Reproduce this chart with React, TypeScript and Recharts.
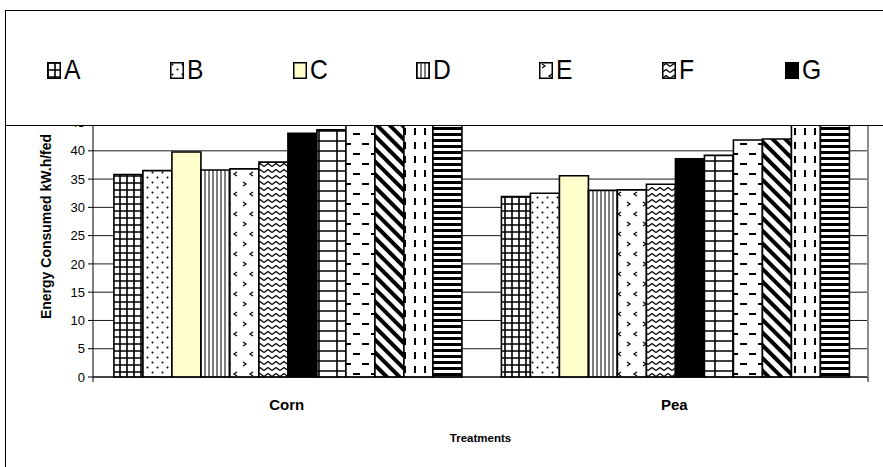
import { Bar, BarChart, CartesianGrid, Legend, XAxis, YAxis } from "recharts";

const categories = ["Corn", "Pea"];
const treatments = ["A", "B", "C", "D", "E", "F", "G", "H", "I", "J", "K", "L"];
const cornValues = [35.8, 36.5, 39.8, 36.6, 36.8, 38.0, 43.1, 43.7, 47.5, 48.5, 50.5, 51.5];
const peaValues = [31.9, 32.5, 35.6, 33.0, 33.1, 34.1, 38.6, 39.2, 41.9, 42.1, 45.5, 46.5];
// ticks above 45 sit under the legend box in the original
const yTicks = [0, 5, 10, 15, 20, 25, 30, 35, 40, 45];
const edgeTicks = [0, 1, 2];
// only the first legend entries fit inside the frame of the original picture
const shownLegendCount = 7;

const seriesValues = [cornValues, peaValues];
const rows = categories.map((name, i) => {
    const row: Record<string, string | number> = { name };
    treatments.forEach((t, j) => {
        row[t] = seriesValues[i][j];
    });
    return row;
});

const FONT = '"Liberation Sans", Arial, sans-serif';

function Patterns() {
    return (
        <defs>
            <pattern id="pat-A" width="7" height="7" patternUnits="userSpaceOnUse">
                <rect width="7" height="7" fill="#fff" />
                <path d="M0 1H7M1 0V7" stroke="#000" strokeWidth="1.6" />
            </pattern>
            <pattern id="pat-B" width="10" height="10" patternUnits="userSpaceOnUse">
                <rect width="10" height="10" fill="#fff" />
                <circle cx="2.5" cy="2.5" r="1" fill="#000" />
                <circle cx="7.5" cy="7.5" r="1" fill="#000" />
            </pattern>
            <pattern id="pat-C" width="4" height="4" patternUnits="userSpaceOnUse">
                <rect width="4" height="4" fill="#ffffcc" />
            </pattern>
            <pattern id="pat-D" width="8" height="8" patternUnits="userSpaceOnUse">
                <rect width="8" height="8" fill="#fff" />
                <path d="M1 0V8M5 0V8" stroke="#000" strokeWidth="1" />
            </pattern>
            <pattern id="pat-E" width="16" height="20" patternUnits="userSpaceOnUse">
                <rect width="16" height="20" fill="#fff" />
                <path d="M3 2L6 4L3 6M13 12L10 14L13 16" stroke="#000" strokeWidth="1.2" fill="none" />
            </pattern>
            <pattern id="pat-F" width="8" height="6" patternUnits="userSpaceOnUse">
                <rect width="8" height="6" fill="#fff" />
                <path d="M0 4.5L4 1.5L8 4.5" stroke="#000" strokeWidth="1.4" fill="none" />
            </pattern>
            <pattern id="pat-G" width="4" height="4" patternUnits="userSpaceOnUse">
                <rect width="4" height="4" fill="#000" />
            </pattern>
            <pattern id="pat-H" width="18" height="10" patternUnits="userSpaceOnUse">
                <rect width="18" height="10" fill="#fff" />
                <path d="M0 1H18M13 0V10" stroke="#000" strokeWidth="1.6" />
            </pattern>
            <pattern id="pat-I" width="18" height="20" patternUnits="userSpaceOnUse">
                <rect width="18" height="20" fill="#fff" />
                <path d="M2 4H9M11 14H18" stroke="#000" strokeWidth="2" />
            </pattern>
            <pattern
                id="pat-J"
                width="9"
                height="9"
                patternUnits="userSpaceOnUse"
                patternTransform="rotate(45)"
            >
                <rect width="9" height="9" fill="#fff" />
                <rect width="9" height="4" fill="#000" />
            </pattern>
            <pattern id="pat-K" width="10" height="14" patternUnits="userSpaceOnUse">
                <rect width="10" height="14" fill="#fff" />
                <path d="M5 2V9" stroke="#000" strokeWidth="2" />
            </pattern>
            <pattern id="pat-L" width="6" height="6" patternUnits="userSpaceOnUse">
                <rect width="6" height="6" fill="#fff" />
                <rect y="1" width="6" height="3" fill="#000" />
            </pattern>
        </defs>
    );
}

function LegendBox(props: any) {
    const items = (props.payload || []).slice(0, shownLegendCount);
    return (
        <div
            style={{
                display: "flex",
                paddingTop: 44,
                paddingLeft: 41,
                fontFamily: FONT,
                fontSize: 28,
                lineHeight: "29px",
                color: "#000",
                whiteSpace: "nowrap",
            }}
        >
            {items.map((entry: any) => (
                <div key={entry.value} style={{ width: 123, flex: "0 0 123px" }}>
                    <svg width={14} height={17} style={{ verticalAlign: "baseline", marginRight: 3 }}>
                        <rect
                            x={0.75}
                            y={0.75}
                            width={12.5}
                            height={15.5}
                            fill={`url(#pat-${entry.dataKey})`}
                            stroke="#000"
                            strokeWidth={1.5}
                        />
                    </svg>
                    <span
                        style={{
                            display: "inline-block",
                            transform: "scaleX(0.88)",
                            transformOrigin: "left center",
                        }}
                    >
                        {entry.value}
                    </span>
                </div>
            ))}
        </div>
    );
}

export default function App() {
    return (
        <div
            style={{
                position: "absolute",
                left: 0,
                top: 0,
                width: 883,
                height: 467,
                overflow: "hidden",
                background: "#fff",
            }}
        >
            <div
                style={{
                    position: "absolute",
                    left: 5,
                    top: 10,
                    width: 1200,
                    height: 700,
                    borderLeft: "1px solid #000",
                    borderTop: "1px solid #000",
                }}
            />
            <div style={{ position: "absolute", left: 0, top: 0 }}>
                <BarChart
                    width={883}
                    height={467}
                    data={rows}
                    margin={{ top: 66, right: 13, left: 33, bottom: 14 }}
                    barCategoryGap="5.4%"
                    barGap={0}
                >
                    <Patterns />
                    <CartesianGrid vertical={false} stroke="#000" strokeOpacity={0.9} />
                    <XAxis
                        xAxisId="a"
                        type="number"
                        domain={[0, 2]}
                        ticks={edgeTicks}
                        allowDataOverflow
                        height={1}
                        tickSize={5}
                        tickFormatter={() => ""}
                        stroke="#000"
                        axisLine={{ stroke: "#000", strokeWidth: 1 }}
                    />
                    <XAxis
                        xAxisId="b"
                        dataKey="name"
                        height={75}
                        axisLine={false}
                        tickLine={false}
                        tickMargin={15}
                        tick={{ fill: "#000", fontFamily: FONT, fontSize: 15, fontWeight: "bold" }}
                        label={{
                            value: "Treatments",
                            position: "insideBottom",
                            offset: 11,
                            fill: "#000",
                            fontFamily: FONT,
                            fontSize: 11.5,
                            fontWeight: "bold",
                        }}
                    />
                    <YAxis
                        domain={[0, 55]}
                        ticks={yTicks}
                        width={60}
                        tickSize={5}
                        tickMargin={3}
                        stroke="#000"
                        tick={{ fill: "#000", fontFamily: FONT, fontSize: 13 }}
                        label={{
                            value: "Energy Consumed kW.h/fed",
                            angle: -90,
                            position: "center",
                            dx: -17,
                            dy: 5,
                            fill: "#000",
                            fontFamily: FONT,
                            fontSize: 14,
                            fontWeight: "bold",
                        }}
                    />
                    <YAxis
                        yAxisId="r"
                        orientation="right"
                        domain={[0, 55]}
                        width={2}
                        tick={false}
                        tickLine={false}
                        axisLine={{ stroke: "#8c8c8c", strokeWidth: 2 }}
                    />
                    <Legend
                        layout="horizontal"
                        verticalAlign="middle"
                        align="center"
                        content={<LegendBox />}
                        wrapperStyle={{
                            position: "absolute",
                            left: 5,
                            top: 10,
                            width: 1200,
                            height: 116,
                            border: "1px solid #000",
                            borderRight: "none",
                            background: "#fff",
                            boxSizing: "border-box",
                        }}
                    />
                    {treatments.map((t) => (
                        <Bar
                            key={t}
                            xAxisId="b"
                            dataKey={t}
                            fill={`url(#pat-${t})`}
                            stroke="#000"
                            strokeWidth={1.6}
                            isAnimationActive={false}
                        />
                    ))}
                </BarChart>
            </div>
        </div>
    );
}
